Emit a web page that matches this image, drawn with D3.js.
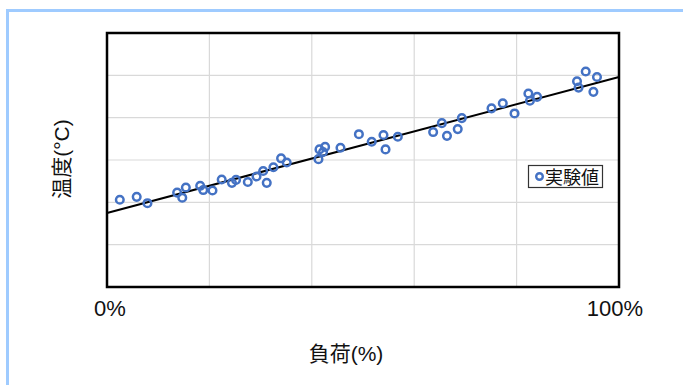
<!DOCTYPE html>
<html><head><meta charset="utf-8">
<script src="https://cdn.jsdelivr.net/npm/d3@7"></script>
<style>body{margin:0;background:#fff}svg{display:block}</style>
</head><body>
<script>
const loadX = [2.5,5.8,7.9,13.7,14.7,15.4,18.2,18.8,20.6,22.4,24.4,25.2,27.5,29.2,30.5,31.2,32.5,34.0,35.1,41.3,41.5,42.6,42.2,45.6,49.2,51.7,54.0,54.4,56.8,63.7,65.4,66.4,68.5,69.3,75.1,77.3,79.6,82.3,82.6,84.0,91.8,92.1,93.5,95.0,95.7];
const tempY = [2.06,2.13,1.98,2.23,2.11,2.35,2.39,2.29,2.28,2.54,2.46,2.53,2.48,2.61,2.74,2.46,2.83,3.04,2.94,3.02,3.25,3.31,3.19,3.29,3.61,3.43,3.59,3.25,3.55,3.66,3.87,3.57,3.73,3.99,4.22,4.34,4.10,4.57,4.40,4.49,4.86,4.71,5.09,4.61,4.96];
const trendX = [0,100];
const trendY = [1.75,4.96];
const xTickValues = [0,100];
const xTickLabels = ["0%","100%"];
const xTitle = "負荷(%)";
const yTitle = "温度(°C)";
const legendLabel = "実験値";

const W=683,H=385;
const m={l:107,t:33,r:619,b:287};
const font='"Liberation Sans","Noto Sans CJK JP",sans-serif';
const svg=d3.select("body").append("svg").attr("width",W).attr("height",H);
// outer frame
svg.append("rect").attr("x",7.5).attr("y",10.5).attr("width",W+10).attr("height",H+10)
  .attr("fill","none").attr("stroke","#9fcbff").attr("stroke-width",3);

const x=d3.scaleLinear().domain([0,100]).range([m.l,m.r]);
const y=d3.scaleLinear().domain([0,6]).range([m.b,m.t]);

// grid
svg.append("g").selectAll("line").data(d3.range(20,100,20)).join("line")
  .attr("x1",d=>x(d)).attr("x2",d=>x(d)).attr("y1",m.t).attr("y2",m.b)
  .attr("stroke","#d9d9d9").attr("stroke-width",1.2);
svg.append("g").selectAll("line").data(d3.range(1,6)).join("line")
  .attr("y1",d=>y(d)).attr("y2",d=>y(d)).attr("x1",m.l).attr("x2",m.r)
  .attr("stroke","#d9d9d9").attr("stroke-width",1.2);

// trend line
const pts=trendX.map((v,i)=>[v,trendY[i]]);
svg.append("path").datum(pts).attr("d",d3.line().x(d=>x(d[0])).y(d=>y(d[1])))
  .attr("fill","none").attr("stroke","#000").attr("stroke-width",2);

// points
svg.append("g").selectAll("circle").data(loadX.map((v,i)=>[v,tempY[i]])).join("circle")
  .attr("cx",d=>x(d[0])).attr("cy",d=>y(d[1])).attr("r",3.8)
  .attr("fill","none").attr("stroke","#4472c4").attr("stroke-width",2.5);

// border
svg.append("rect").attr("x",m.l).attr("y",m.t).attr("width",m.r-m.l).attr("height",m.b-m.t)
  .attr("fill","none").attr("stroke","#000").attr("stroke-width",2.5);

// x tick labels
const dx=[3,-4];
svg.append("g").selectAll("text").data(xTickValues).join("text")
  .attr("x",(d,i)=>x(d)+dx[i]).attr("y",316).attr("text-anchor","middle")
  .attr("font-family",font).attr("font-size",22).attr("fill","#111")
  .text((d,i)=>xTickLabels[i]);

svg.append("text").attr("x",346).attr("y",361).attr("text-anchor","middle")
  .attr("font-family",font).attr("font-size",21).attr("fill","#111").text(xTitle);
svg.append("text").attr("transform","translate(69,159) rotate(-90)").attr("text-anchor","middle")
  .attr("font-family",font).attr("font-size",21).attr("fill","#111").text(yTitle);

// legend
const lg=svg.append("g");
lg.append("rect").attr("x",528.5).attr("y",165.5).attr("width",74).attr("height",22)
  .attr("fill","#fff").attr("stroke","#333").attr("stroke-width",1.2);
lg.append("circle").attr("cx",539.5).attr("cy",176.5).attr("r",3.3)
  .attr("fill","none").attr("stroke","#4472c4").attr("stroke-width",2.4);
lg.append("text").attr("x",545).attr("y",183.5).attr("font-family",font).attr("font-size",18)
  .attr("fill","#111").text(legendLabel);
</script>
</body></html>
